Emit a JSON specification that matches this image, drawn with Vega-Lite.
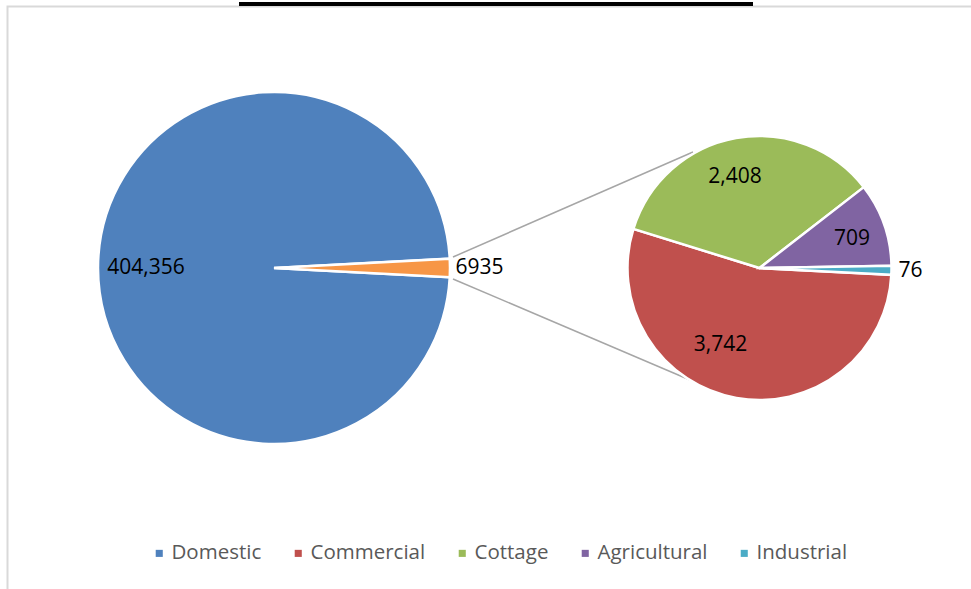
{
  "$schema": "https://vega.github.io/schema/vega-lite/v6.json",
  "width": 971,
  "height": 589,
  "autosize": {"type": "none"},
  "padding": 0,
  "background": "white",
  "config": {"view": {"stroke": null}, "font": "Open Sans"},
  "datasets": {
    "primary": [
      {"category": "Domestic", "value": 404356},
      {"category": "Other", "value": 6935}
    ],
    "secondary": [
      {"category": "Commercial", "value": 3742},
      {"category": "Cottage", "value": 2408},
      {"category": "Agricultural", "value": 709},
      {"category": "Industrial", "value": 76}
    ]
  },
  "layer": [
    {
      "data": {"values": [{}]},
      "mark": {"type": "rect", "filled": false, "stroke": "#d9d9d9", "strokeWidth": 2},
      "encoding": {
        "x": {"datum": 7.5, "type": "quantitative", "scale": {"domain": [0, 971], "range": [0, 971], "nice": false, "zero": false}, "axis": null},
        "y": {"datum": 6.5, "type": "quantitative", "scale": {"domain": [0, 589], "range": [0, 589], "nice": false, "zero": false}, "axis": null},
        "x2": {"datum": 995},
        "y2": {"datum": 620}
      }
    },
    {
      "data": {"values": [{}]},
      "mark": {"type": "rect", "fill": "black"},
      "encoding": {
        "x": {"datum": 239, "type": "quantitative"},
        "y": {"datum": 2, "type": "quantitative"},
        "x2": {"datum": 753},
        "y2": {"datum": 6}
      }
    },
    {
      "data": {"values": [{}]},
      "mark": {"type": "rule", "stroke": "#a6a6a6", "strokeWidth": 1.5},
      "encoding": {
        "x": {"datum": 453, "type": "quantitative"},
        "y": {"datum": 257, "type": "quantitative"},
        "x2": {"datum": 693},
        "y2": {"datum": 152}
      }
    },
    {
      "data": {"values": [{}]},
      "mark": {"type": "rule", "stroke": "#a6a6a6", "strokeWidth": 1.5},
      "encoding": {
        "x": {"datum": 453, "type": "quantitative"},
        "y": {"datum": 279, "type": "quantitative"},
        "x2": {"datum": 690},
        "y2": {"datum": 380}
      }
    },
    {
      "data": {"name": "primary"},
      "encoding": {
        "x": {"datum": 274, "type": "quantitative"},
        "y": {"datum": 268, "type": "quantitative"},
        "theta": {"field": "value", "type": "quantitative", "stack": true, "scale": {"range": [1.6237, 7.9069]}},
        "order": {"field": "value", "type": "quantitative", "sort": "descending"},
        "detail": {"field": "category", "type": "nominal"}
      },
      "layer": [
        {
          "mark": {"type": "arc", "radius": 176, "stroke": "white", "strokeWidth": 2.5},
          "encoding": {
            "color": {
              "field": "category",
              "type": "nominal",
              "scale": {
                "domain": ["Domestic", "Commercial", "Cottage", "Agricultural", "Industrial", "Other"],
                "range": ["#4f81bd", "#c0504d", "#9bbb59", "#8064a2", "#4bacc6", "#f79646"]
              },
              "legend": {
                "values": ["Domestic", "Commercial", "Cottage", "Agricultural", "Industrial"],
                "title": null,
                "orient": "none",
                "legendX": 149,
                "legendY": 543,
                "direction": "horizontal",
                "columns": 5,
                "symbolType": "square",
                "symbolSize": 50,
                "symbolStrokeWidth": 0,
                "labelFont": "Open Sans",
                "labelFontSize": 20.5,
                "labelColor": "#595959",
                "labelOffset": 2,
                "columnPadding": 26
              }
            }
          }
        },
        {
          "mark": {"type": "text", "radius": 128, "fontSize": 21, "font": "Open Sans", "color": "black", "align": "center", "baseline": "middle"},
          "encoding": {
            "text": {"condition": {"test": "datum.category === 'Domestic'", "field": "value", "type": "quantitative", "format": ","}, "value": ""}
          }
        },
        {
          "mark": {"type": "text", "radius": 205.5, "fontSize": 21, "font": "Open Sans", "color": "black", "align": "center", "baseline": "middle"},
          "encoding": {
            "text": {"condition": {"test": "datum.category === 'Other'", "field": "value", "type": "quantitative", "format": "d"}, "value": ""}
          }
        }
      ]
    },
    {
      "data": {"name": "secondary"},
      "encoding": {
        "x": {"datum": 759.5, "type": "quantitative"},
        "y": {"datum": 268, "type": "quantitative"},
        "theta": {"field": "value", "type": "quantitative", "stack": true, "scale": {"range": [1.6226, 7.9058]}},
        "order": {"field": "value", "type": "quantitative", "sort": "descending"},
        "detail": {"field": "category", "type": "nominal"}
      },
      "layer": [
        {
          "mark": {"type": "arc", "radius": 132, "stroke": "white", "strokeWidth": 2.5},
          "encoding": {
            "color": {"field": "category", "type": "nominal"}
          }
        },
        {
          "mark": {"type": "text", "radius": 92, "dx": -8, "fontSize": 21, "font": "Open Sans", "color": "black", "align": "center", "baseline": "middle"},
          "encoding": {
            "text": {"condition": {"test": "datum.category === 'Cottage'", "field": "value", "type": "quantitative", "format": ","}, "value": ""}
          }
        },
        {
          "mark": {"type": "text", "radius": 98, "dy": 4, "fontSize": 21, "font": "Open Sans", "color": "black", "align": "center", "baseline": "middle"},
          "encoding": {
            "text": {"condition": {"test": "datum.category === 'Agricultural'", "field": "value", "type": "quantitative", "format": ","}, "value": ""}
          }
        },
        {
          "mark": {"type": "text", "radius": 86, "dx": -24, "dy": -8, "fontSize": 21, "font": "Open Sans", "color": "black", "align": "center", "baseline": "middle"},
          "encoding": {
            "text": {"condition": {"test": "datum.category === 'Commercial'", "field": "value", "type": "quantitative", "format": ","}, "value": ""}
          }
        },
        {
          "mark": {"type": "text", "radius": 151, "fontSize": 21, "font": "Open Sans", "color": "black", "align": "center", "baseline": "middle"},
          "encoding": {
            "text": {"condition": {"test": "datum.category === 'Industrial'", "field": "value", "type": "quantitative", "format": ","}, "value": ""}
          }
        }
      ]
    }
  ],
  "resolve": {"scale": {"theta": "independent"}}
}
